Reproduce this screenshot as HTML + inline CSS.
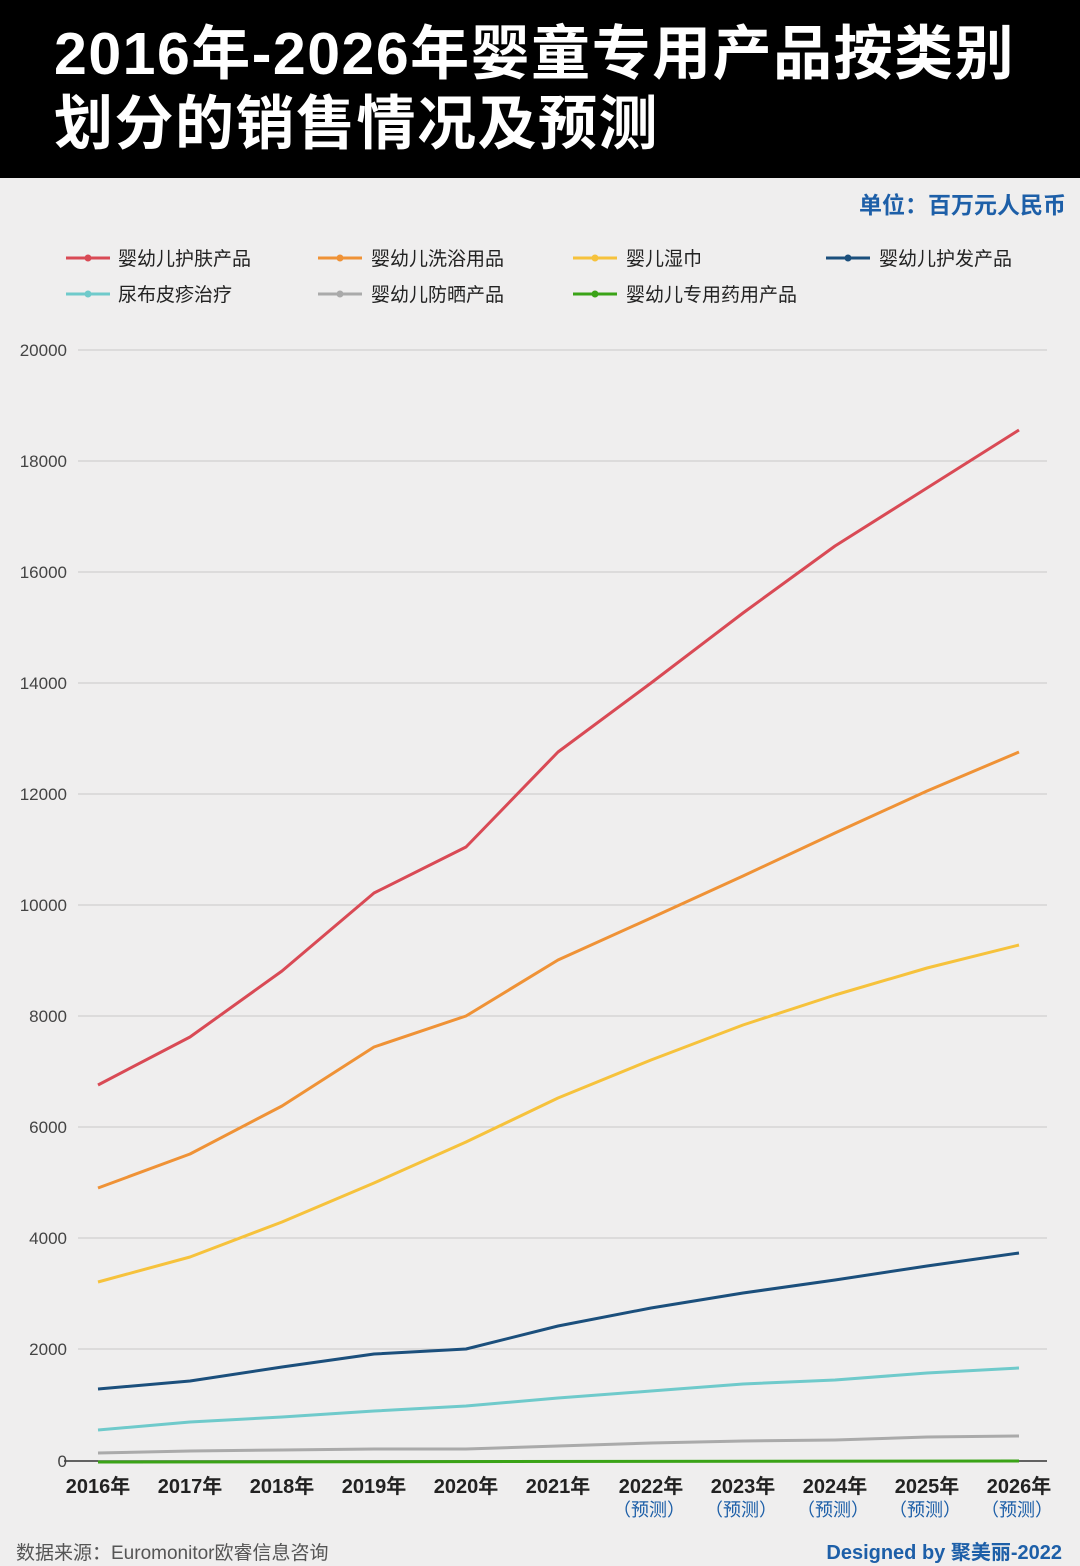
<!DOCTYPE html>
<html><head><meta charset="utf-8"><style>
body{margin:0;width:1080px;height:1566px;background:#efeeee;font-family:"Liberation Sans","Noto Sans CJK SC",sans-serif;position:relative;overflow:hidden}
.hdr{position:absolute;left:0;top:0;width:1080px;height:178px;background:#000}
.hdr div{position:absolute;left:54px;color:#fff;font-weight:bold;font-size:59px;line-height:68px;font-family:"Liberation Sans","Noto Sans CJK SC",sans-serif;letter-spacing:1.5px;white-space:nowrap}
</style></head><body>
<div class="hdr"><div style="top:20px">2016年-2026年婴童专用产品按类别</div><div style="top:90px">划分的销售情况及预测</div></div>
<svg width="1080" height="1566" style="position:absolute;left:0;top:0" font-family="Liberation Sans, Noto Sans CJK SC, sans-serif">
<text x="1066" y="213" text-anchor="end" font-size="23" font-weight="bold" fill="#1d5fa8">单位：百万元人民币</text>
<g font-size="19" fill="#222">
<line x1="66" y1="258" x2="110" y2="258" stroke="#d94a55" stroke-width="3"/><circle cx="88" cy="258" r="3.5" fill="#d94a55"/><text x="118" y="265">婴幼儿护肤产品</text>
<line x1="318" y1="258" x2="362" y2="258" stroke="#ef9236" stroke-width="3"/><circle cx="340" cy="258" r="3.5" fill="#ef9236"/><text x="371" y="265">婴幼儿洗浴用品</text>
<line x1="573" y1="258" x2="617" y2="258" stroke="#f6c23c" stroke-width="3"/><circle cx="595" cy="258" r="3.5" fill="#f6c23c"/><text x="626" y="265">婴儿湿巾</text>
<line x1="826" y1="258" x2="870" y2="258" stroke="#1b4f7c" stroke-width="3"/><circle cx="848" cy="258" r="3.5" fill="#1b4f7c"/><text x="879" y="265">婴幼儿护发产品</text>
<line x1="66" y1="294" x2="110" y2="294" stroke="#6fcacb" stroke-width="3"/><circle cx="88" cy="294" r="3.5" fill="#6fcacb"/><text x="118" y="301">尿布皮疹治疗</text>
<line x1="318" y1="294" x2="362" y2="294" stroke="#aaaaaa" stroke-width="3"/><circle cx="340" cy="294" r="3.5" fill="#aaaaaa"/><text x="371" y="301">婴幼儿防晒产品</text>
<line x1="573" y1="294" x2="617" y2="294" stroke="#3aa317" stroke-width="3"/><circle cx="595" cy="294" r="3.5" fill="#3aa317"/><text x="626" y="301">婴幼儿专用药用产品</text>
</g>
<g stroke="#c8c8c8" stroke-width="1">
<line x1="78" y1="350" x2="1047" y2="350"/><line x1="78" y1="461" x2="1047" y2="461"/><line x1="78" y1="572" x2="1047" y2="572"/><line x1="78" y1="683" x2="1047" y2="683"/><line x1="78" y1="794" x2="1047" y2="794"/><line x1="78" y1="905" x2="1047" y2="905"/><line x1="78" y1="1016" x2="1047" y2="1016"/><line x1="78" y1="1127" x2="1047" y2="1127"/><line x1="78" y1="1238" x2="1047" y2="1238"/><line x1="78" y1="1349" x2="1047" y2="1349"/>
</g>
<line x1="64" y1="1461" x2="1047" y2="1461" stroke="#333" stroke-width="1.5"/>
<g font-size="17" fill="#444" text-anchor="end">
<text x="67" y="356">20000</text><text x="67" y="467">18000</text><text x="67" y="578">16000</text><text x="67" y="689">14000</text><text x="67" y="800">12000</text><text x="67" y="911">10000</text><text x="67" y="1022">8000</text><text x="67" y="1133">6000</text><text x="67" y="1244">4000</text><text x="67" y="1355">2000</text><text x="67" y="1467">0</text>
</g>
<g fill="none" stroke-width="3" stroke-linejoin="round">
<polyline stroke="#d94a55" points="98,1085 190,1037 282,971 374,893 466,847 558,752 651,683 743,613 835,546 927,488 1019,430"/>
<polyline stroke="#ef9236" points="98,1188 190,1154 282,1106 374,1047 466,1016 558,960 651,918 743,876 835,833 927,791 1019,752"/>
<polyline stroke="#f6c23c" points="98,1282 190,1257 282,1222 374,1183 466,1142 558,1098 651,1060 743,1025 835,995 927,968 1019,945"/>
<polyline stroke="#1b4f7c" points="98,1389 190,1381 282,1367 374,1354 466,1349 558,1326 651,1308 743,1293 835,1280 927,1266 1019,1253"/>
<polyline stroke="#6fcacb" points="98,1430 190,1422 282,1417 374,1411 466,1406 558,1398 651,1391 743,1384 835,1380 927,1373 1019,1368"/>
<polyline stroke="#aaaaaa" points="98,1453 190,1451 282,1450 374,1449 466,1449 558,1446 651,1443 743,1441 835,1440 927,1437 1019,1436"/>
<polyline stroke="#3aa317" points="98,1462 1019,1461"/>
</g>
<g font-size="20" font-weight="bold" fill="#222" text-anchor="middle">
<text x="98" y="1493">2016年</text><text x="190" y="1493">2017年</text><text x="282" y="1493">2018年</text><text x="374" y="1493">2019年</text><text x="466" y="1493">2020年</text><text x="558" y="1493">2021年</text><text x="651" y="1493">2022年</text><text x="743" y="1493">2023年</text><text x="835" y="1493">2024年</text><text x="927" y="1493">2025年</text><text x="1019" y="1493">2026年</text>
</g>
<g font-size="18" fill="#1d5fa8" text-anchor="middle">
<text x="649" y="1516">（预测）</text><text x="741" y="1516">（预测）</text><text x="833" y="1516">（预测）</text><text x="925" y="1516">（预测）</text><text x="1017" y="1516">（预测）</text>
</g>
<text x="16" y="1559" font-size="19" fill="#555">数据来源：Euromonitor欧睿信息咨询</text>
<text x="1062" y="1559" font-size="20" font-weight="bold" fill="#1d5fa8" text-anchor="end">Designed by 聚美丽-2022</text>
</svg>
</body></html>
